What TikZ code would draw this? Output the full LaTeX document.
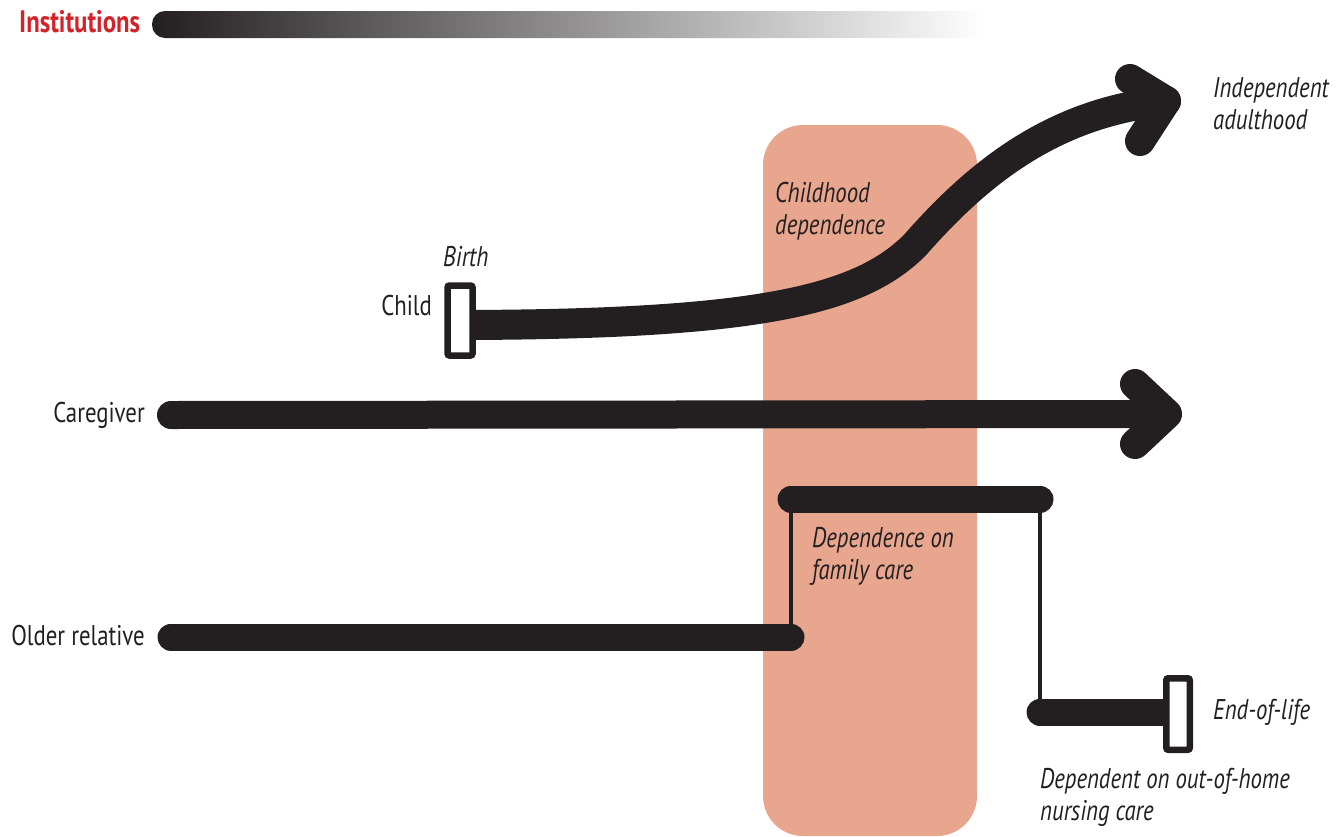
\documentclass[tikz,border=0pt]{standalone}
\usepackage{fontspec}
\setmainfont{PT Sans}[FakeStretch=0.8]
\usepackage{xcolor}
\usetikzlibrary{calc}
\usetikzlibrary{backgrounds}
\definecolor{ink}{HTML}{231F20}
\definecolor{salmon}{HTML}{E9A68F}
\definecolor{instred}{HTML}{D2232A}

\begin{document}
\begin{tikzpicture}
    [x=1pt, y=-1pt,
     lifeline/.style={draw=ink, line width=28pt, line cap=round, line join=round},
     tipline/.style={draw=ink, line width=30pt, line cap=round, line join=round},
     linkline/.style={draw=ink, line width=3.5pt},
     marker/.style={rectangle, draw=ink, line width=6.5pt, fill=white, rounded corners=2pt, inner sep=0pt},
     caption/.style={font=\fontsize{28.5}{32}\selectfont\itshape, text=ink, align=left, anchor=west, inner sep=0pt},
     who/.style={font=\fontsize{28.5}{32}\selectfont, text=ink, anchor=east, inner sep=0pt}]
    \useasboundingbox (0,0) rectangle (1339,836);

    \begin{pgfonlayer}{background}
        \fill[salmon, rounded corners=40pt] (763,125) rectangle (977,836);
        \shade[left color=ink, middle color=black!70, right color=white, rounded corners=13pt] (152,11) rectangle (985,38);
    \end{pgfonlayer}

    \node (inst) [anchor=west, inner sep=0pt, text=instred, font=\fontsize{31}{32}\selectfont\bfseries] at (19,22) {Institutions};

    \foreach \n/\x/\y/\t in {child/432/306/Child, carer/145/415/Caregiver, elder/145/636/Older relative}{
        \node (\n) [who] at (\x,\y) {\t};
    }

    \node (birthtxt) [caption] at (443,257) {Birth};
    \node (childdep) [caption] at (775,211) {Childhood\\dependence};
    \node (adult) [caption] at (1213,104) {Independent\\adulthood};
    \node (famcare) [caption] at (812,556) {Dependence on\\family care};
    \node (eoltxt) [caption] at (1213,712) {End-of-life};
    \node (nursing) [caption] at (1040,797) {Dependent on out-of-home\\nursing care};

    \node (birth) [marker, minimum width=25pt, minimum height=70pt] at (460,320.5) {};
    \node (eol) [marker, minimum width=23.5pt, minimum height=71.5pt] at (1178,714) {};

    \coordinate (adulttip) at (1166,101);
    \coordinate (cgstart) at (171,415);
    \coordinate (cgtip) at (1167,414);
    \coordinate (eldstart) at (171,637);
    \coordinate (eldend) at (791,637);
    \coordinate (famleft) at (791,499);
    \coordinate (famright) at (1040,499);
    \coordinate (nursestart) at (1040,712);

    \begin{pgfonlayer}{background}
        % child
        \draw[lifeline, line width=30pt] ($(birth.center)+(5,4.5)$) .. controls (760,324) and (860,300) .. (915,245) .. controls (985,165) and (1060,112) .. (adulttip);
        \draw[tipline] (1130,79) -- (adulttip) -- (1140,141);
        % caregiver
        \draw[lifeline] (cgstart) -- (cgtip);
        \draw[tipline] (1135,384) -- (cgtip) -- (1135,444);
        % older relative
        \draw[lifeline, line width=27pt] (eldstart) -- (eldend);
        \draw[linkline] (eldend) -- (famleft);
        \draw[lifeline, line width=27pt] (famleft) -- (famright);
        \draw[linkline] (famright) -- (nursestart);
        \draw[lifeline, line width=27pt] (nursestart) -- (nursestart -| eol.center);
    \end{pgfonlayer}
\end{tikzpicture}
\end{document}
